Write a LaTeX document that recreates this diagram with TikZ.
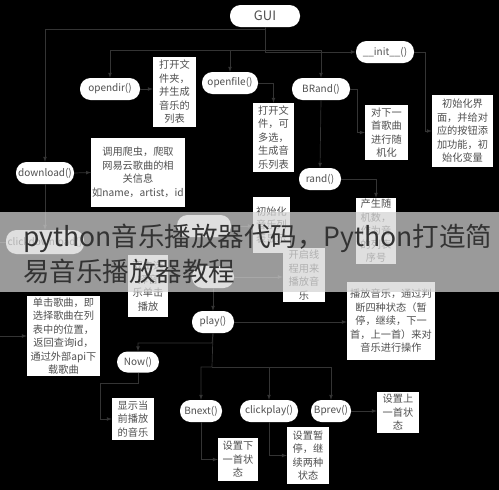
\documentclass[tikz,border=0pt]{standalone}
\usepackage{fontspec}
\setmainfont{Noto Sans CJK SC}
\usetikzlibrary{arrows}
\definecolor{wire}{RGB}{52,52,52}
\definecolor{ink}{RGB}{80,80,80}
\definecolor{veil}{RGB}{212,212,212}
\tikzset{
  func/.style={fill=white, rounded corners=10.5pt, minimum height=22pt, inner sep=1pt,
    text=ink, font=\fontsize{10}{12}\selectfont},
  desc/.style={fill=white, text=ink, align=center, inner sep=1pt,
    font=\fontsize{10.2}{13.5}\selectfont},
  wire/.style={->, >=latex, draw=wire, line width=0.7pt},
}

\begin{document}
\begin{tikzpicture}[x=1pt, y=-1pt]
    \fill[black] (0,0) rectangle (499,490);
    \useasboundingbox (0,0) rectangle (499,490);
    % functions
    \node[func, minimum width=70pt, font=\fontsize{13}{15}\selectfont] (GUI) at (265,16) {GUI};
    \node[func, minimum width=58pt] (init) at (385,52) {\_\_init\_\_()};
    \node[func, minimum width=60pt] (opendir) at (110,89) {opendir()};
    \node[func, minimum width=56pt] (openfile) at (230,83) {openfile()};
    \node[func, minimum width=58pt] (BRand) at (321,89) {BRand()};
    \node[func, minimum width=58pt] (download) at (45,173) {download()};
    \node[func, minimum width=42pt] (rand) at (320,179) {rand()};
    \node[func, minimum width=78pt, minimum height=24pt] (clickdl) at (45,242) {clickdownload()};
    \node[func, minimum width=54pt] (showlist) at (204,226) {};
    \node[func, minimum width=42pt] (playthread) at (213,277) {};
    \node[func, minimum width=42pt] (play) at (213,322) {play()};
    \node[func, minimum width=42pt, minimum height=21pt] (Now) at (138,362) {Now()};
    \node[func, minimum width=42pt] (Bnext) at (201,411) {Bnext()};
    \node[func, minimum width=58pt] (clickplay) at (269,411) {clickplay()};
    \node[func, minimum width=40pt] (Bprev) at (331,411) {Bprev()};
    % notes
    \node[desc, minimum width=43pt, minimum height=70pt] (dirinfo) at (174.5,92) {打开文\\件夹，\\并生成\\音乐的\\列表};
    \node[desc, minimum width=41pt, minimum height=69pt] (fileinfo) at (273.5,137.5) {打开文\\件，可\\多选，\\生成音\\乐列表};
    \node[desc, minimum width=43pt, minimum height=55pt] (randinfo0) at (386.5,132.5) {对下一\\首歌曲\\进行随\\机化};
    \node[desc, minimum width=61pt, minimum height=72pt] (initinfo) at (462.5,131) {初始化界\\面，并给对\\应的按钮添\\加功能，初\\始化变量};
    \node[desc, minimum width=84pt, minimum height=69pt] (dlinfo) at (138,172.5) {调用爬虫，爬取\\网易云歌曲的相\\关信息\\如name，artist，id};
    \node[desc, minimum width=40pt, minimum height=66pt] (randinfo) at (376,231) {产生随\\机数，\\作为音\\的列表\\序号};
    \node[desc, minimum width=37pt, minimum height=56pt] (listinfo) at (271.5,225) {初始化\\音乐列\\表显示};
    \node[desc, minimum width=42pt, minimum height=54pt] (threadinfo) at (304,275) {开启线\\程用来\\播放音\\乐};
    \node[desc, minimum width=40pt, minimum height=62pt] (selinfo) at (148,286) {双击选\\择音\\乐单击\\播放};
    \node[desc, minimum width=73pt, minimum height=80pt] (clickinfo) at (63.5,336) {单击歌曲，即\\选择歌曲在列\\表中的位置，\\返回查询id，\\通过外部api下\\载歌曲};
    \node[desc, minimum width=88pt, minimum height=78pt] (playinfo) at (391,321) {播放音乐，通过判\\断四种状态（暂\\停，继续，下一\\首，上一首）来对\\音乐进行操作};
    \node[desc, minimum width=42pt, minimum height=42pt] (nowinfo) at (133,419) {显示当\\前播放\\的音乐};
    \node[desc, minimum width=40pt, minimum height=43pt] (nextinfo) at (238,459.5) {设置下\\一首状\\态};
    \node[desc, minimum width=42pt, minimum height=57pt] (pauseinfo) at (308,455.5) {设置暂\\停，继\\续两种\\状态};
    \node[desc, minimum width=42pt, minimum height=41pt] (previnfo) at (398,412.5) {设置上\\一首状\\态};
    % junctions
    \coordinate (topbus) at (265,29);
    \coordinate (midbus) at (265,50);
    \coordinate (nowbend) at (212,343);
    \coordinate (btnbus) at (212,367);
    \coordinate (nowdrop) at (100,383);
    % connectors
    \draw[wire] (GUI.south) |- (init.west);
    \draw[wire] (topbus) -| (download.north);
    \draw[wire] (midbus) -| (opendir.north);
    \draw[wire] (midbus) -| (openfile.north);
    \draw[wire] (midbus) -| (BRand.north);
    \draw[wire] (download.south) -- (clickdl.north);
    \draw[wire] (opendir.east) -- (opendir.east -| dirinfo.west);
    \draw[wire] (openfile.east) -| (fileinfo.north);
    \draw[wire] (BRand.east) -- ++(7,0) |- (randinfo0.west);
    \draw[wire] (init.east) -- ++(11,0) |- (initinfo.west);
    \draw[wire] (download.east) -- (dlinfo.west);
    \draw[wire] (BRand.south) -- (rand.north);
    \draw[wire] (rand.east) -| (randinfo.north);
    \draw[wire] (showlist.east) -- (showlist.east -| listinfo.west);
    \draw[wire] (playthread.east) -- (playthread.east -| threadinfo.west);
    \draw[wire] (playthread.south) -- (play.north);
    \draw[wire] (play.east) -- (play.east -| playinfo.west);
    \draw[wire] (play.south) -- (nowbend) -| (Now.north);
    \draw[wire] (play.south) -- (btnbus) -| (Bnext.north);
    \draw[wire] (btnbus) -| (clickplay.north);
    \draw[wire] (btnbus) -| (Bprev.north);
    \draw[wire] (Now.south) |- (nowdrop) |- (nowinfo.west);
    \draw[wire] (Bnext.south) |- (nextinfo.west);
    \draw[wire] (clickplay.south) |- (pauseinfo.west);
    \draw[wire] (Bprev.east) -- (Bprev.east -| previnfo.west);
    \draw[wire] (clickdl.west) -- ++(-28,0) |- (clickinfo.west);
    % banner
    \fill[veil, fill opacity=0.73] (0,212) rectangle (499,292);
    \node[anchor=base west, inner sep=0pt, text=black!80, font=\fontsize{26.5}{30}\selectfont] (title1) at (23,246) {python音乐播放器代码，Python打造简};
    \node[anchor=base west, inner sep=0pt, text=black!80, font=\fontsize{26.5}{30}\selectfont] (title2) at (23,281) {易音乐播放器教程};
\end{tikzpicture}
\end{document}
